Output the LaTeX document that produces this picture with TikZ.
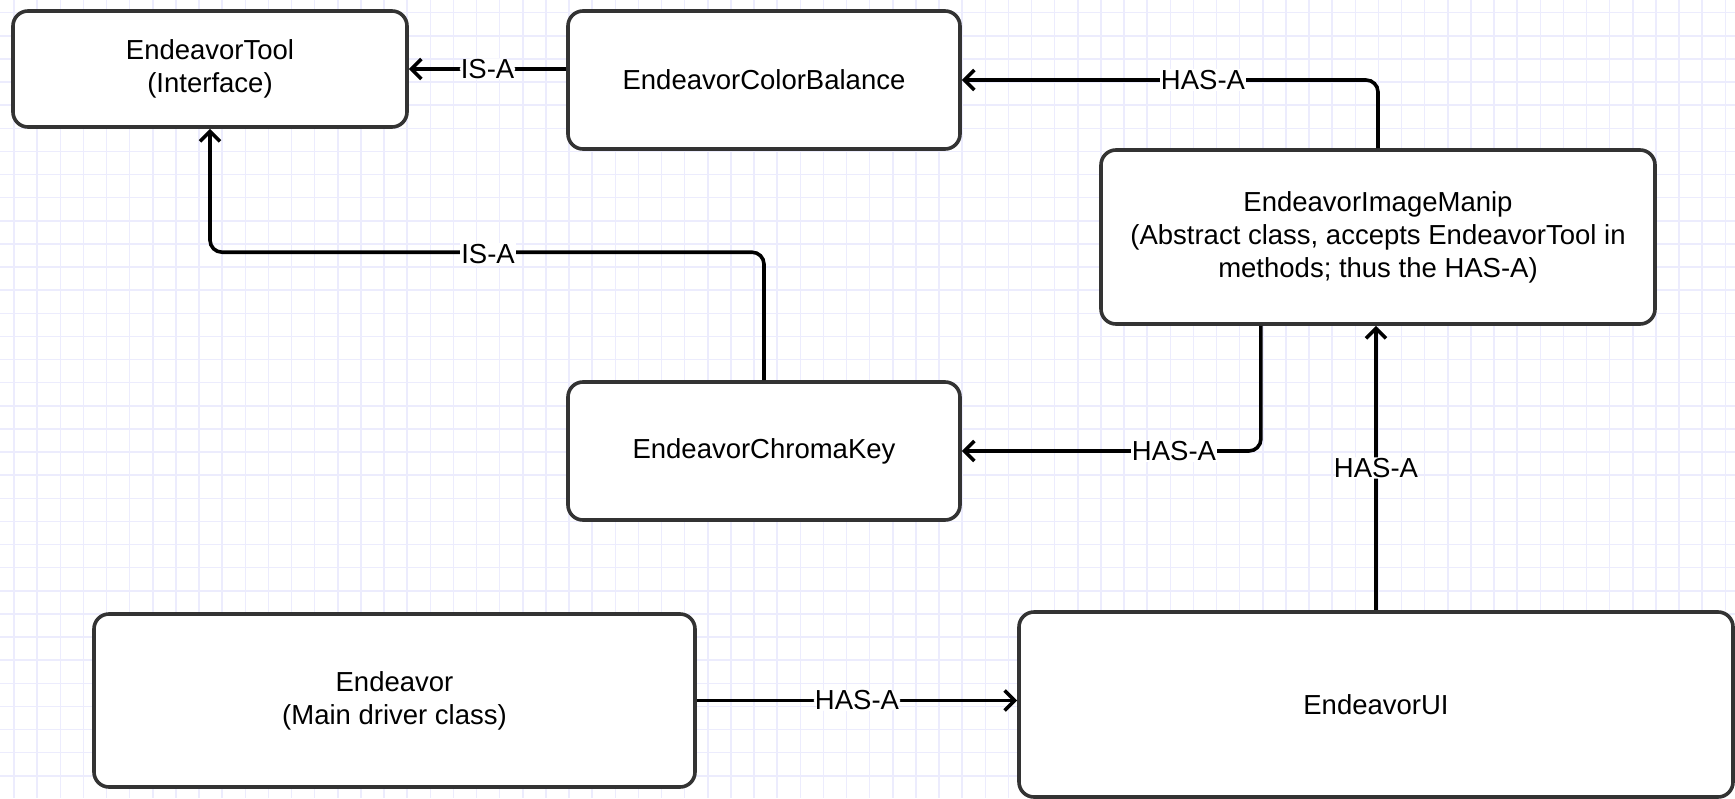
\documentclass[tikz,border=0pt]{standalone}
\usepackage{fontspec}
\setmainfont{Liberation Sans}
\usetikzlibrary{arrows.meta,calc}
\definecolor{gridc}{RGB}{236,236,253}
\definecolor{boxc}{RGB}{51,51,51}
\tikzset{
  cls/.style={draw=boxc, line width=3.6pt, fill=white, rounded corners=15pt, align=center,
    font=\fontsize{27.5}{33}\selectfont, inner sep=0pt},
  conn/.style={draw=black, line width=3.6pt, rounded corners=12pt,
    -{Straight Barb[length=10pt,width=20pt,line width=3.6pt]}},
  lbl/.style={fill=white, inner sep=1pt, font=\fontsize{27.5}{33}\selectfont, text=black}
}
\begin{document}
\begin{tikzpicture}[x=1pt,y=-1pt]
\useasboundingbox (0,0) rectangle (1735,798);
\fill[white] (0,0) rectangle (1735,798);
\foreach \k in {0,...,74} {\draw[gridc, line width=1.5pt] ({14+\k*23.125},0) -- ({14+\k*23.125},798);}
\foreach \k in {0,...,33} {\draw[gridc, line width=1.5pt] (0,{12.7+\k*23.125}) -- (1735,{12.7+\k*23.125});}

\node[cls, minimum width=394pt, minimum height=116pt] (tool) at (210,69) {EndeavorTool\\(Interface)};
\node[cls, minimum width=392pt, minimum height=138pt] (cb) at (764,80) {EndeavorColorBalance};
\node[cls, minimum width=554pt, minimum height=174pt] (im) at (1378,237) {EndeavorImageManip\\(Abstract class, accepts EndeavorTool in\\methods; thus the HAS-A)};
\node[cls, minimum width=392pt, minimum height=138pt] (ck) at (764,451) {EndeavorChromaKey};
\node[cls, minimum width=601pt, minimum height=173pt] (en) at (394.5,700.5) {Endeavor\\(Main driver class)};
\node[cls, minimum width=714pt, minimum height=185pt] (ui) at (1376,704.5) {EndeavorUI};

\draw[conn] (tool.east -| cb.west) -- node[lbl] {IS-A} (tool.east);
\draw[conn] (ck.north) -- ++(0,-128) coordinate (c2) -- (c2 -| tool.south) -- (tool.south);
\node[lbl] at (488,254) {IS-A};
\draw[conn] (im.north) |- (cb.east);
\node[lbl] at (1203,80) {HAS-A};
\coordinate (imb) at ($(im.south west)!0.29!(im.south east)$);
\draw[conn] (imb) |- (ck.east);
\node[lbl] at (1174,451) {HAS-A};
\draw[conn] (ui.north) -- node[lbl] {HAS-A} (ui.north |- im.south);
\draw[conn] (en.east) -- node[lbl] {HAS-A} (ui.west |- en.east);
\end{tikzpicture}
\end{document}
